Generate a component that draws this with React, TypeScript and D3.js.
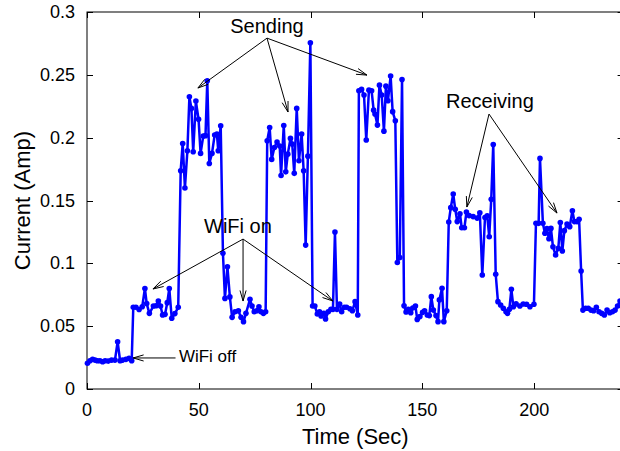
import React, { useEffect, useRef } from 'react';
import * as d3 from 'd3';

const timeSec = [
  0.2, 1.3, 2.5, 3.6, 4.6, 5.8, 7.0, 8.1, 9.5, 11.0, 12.5, 13.7, 14.8, 15.9, 17.4, 18.8, 20.0,
  20.7, 21.9, 23.3, 24.7, 25.9, 26.7, 27.9, 29.7, 30.9, 31.9, 32.9, 33.8, 34.9, 35.9, 36.8, 37.9, 39.3, 40.8,
  41.9, 42.8, 43.8, 44.9, 45.8, 46.7, 47.5, 48.7, 49.9, 50.8, 52.0, 53.0, 53.8, 54.7, 55.9, 57.1, 58.1, 58.7, 59.8,
  60.8, 61.7, 62.8, 63.9, 64.9, 66.2, 67.7, 68.9, 70.0, 71.1, 72.9, 73.8, 74.8, 75.9, 76.9, 77.8, 78.9, 79.9,
  80.6, 81.7, 82.6, 83.8, 85.0, 86.2, 86.8, 88.0, 88.9, 89.8, 91.0, 91.8, 92.7, 93.8, 94.8, 96.0, 96.9, 97.8, 98.8, 99.9,
  100.9, 101.9, 103.0, 104.0, 104.7, 105.9, 106.7, 107.9, 109.1, 110.0, 110.9, 111.8, 113.0, 113.9, 115.1, 116.1, 117.6, 118.7, 119.9, 121.1,
  121.6, 122.8, 123.9, 124.9, 126.1, 127.3, 128.2, 128.8, 129.9, 130.8, 131.8, 132.8, 133.7, 134.6, 135.8, 136.7, 137.9, 138.8, 139.9, 140.9,
  141.8, 142.7, 143.7, 144.8, 145.7, 146.9, 147.7, 148.9, 150.1, 151.0, 152.2, 153.1, 154.0, 154.9, 156.1, 157.0, 157.6, 158.8, 159.6, 160.9,
  161.8, 162.7, 163.8, 164.7, 165.6, 166.8, 167.6, 168.8, 169.7, 170.9, 172.7, 174.5, 175.7, 176.8, 178.0, 179.0, 179.9, 180.8, 181.7,
  182.8, 183.8, 185.0, 186.2, 187.4, 188.1, 188.9, 189.8, 190.7, 191.9, 193.6, 195.1, 196.6, 198.1, 199.9,
  200.8, 202.0, 202.6, 203.9, 204.8, 205.7, 206.6, 207.5, 208.4, 209.6, 210.8, 211.7, 212.6, 213.5, 214.7, 215.9, 217.1, 218.0, 219.2, 220.1,
  221.0, 221.8, 223.0, 224.2, 225.4, 226.6, 227.8, 229.0, 230.2, 231.4, 232.6, 233.8, 235.0, 236.2, 237.3, 238.4,
];

const currentAmp = [
  0.0205, 0.0225, 0.0236, 0.023, 0.0225, 0.0225, 0.0217, 0.0225, 0.0222, 0.023, 0.023, 0.0376, 0.0225, 0.023, 0.0236, 0.0244, 0.0225,
  0.065, 0.065, 0.0633, 0.0655, 0.08, 0.068, 0.0602, 0.066, 0.0663, 0.07, 0.066, 0.0589, 0.0594, 0.0687, 0.08, 0.0563, 0.06, 0.065,
  0.1737, 0.1954, 0.1599, 0.1896, 0.2326, 0.2233, 0.1888, 0.2291, 0.2146, 0.1875, 0.2013, 0.2016, 0.2452, 0.1795, 0.1875, 0.2021, 0.2029, 0.1896, 0.2095,
  0.108, 0.0721, 0.0973, 0.0733, 0.057, 0.0615, 0.0623, 0.057, 0.0536, 0.0602, 0.0714, 0.066, 0.0615, 0.0623, 0.0655, 0.0615, 0.0602, 0.0615,
  0.1976, 0.2081, 0.1827, 0.1921, 0.1965, 0.1933, 0.1699, 0.2097, 0.1728, 0.1869, 0.1994, 0.1949, 0.1716, 0.2233, 0.1816, 0.2029, 0.1737, 0.1145, 0.1853, 0.2755,
  0.0661, 0.0661, 0.0597, 0.0615, 0.0581, 0.0602, 0.0557, 0.0615, 0.0634, 0.0634, 0.1249, 0.0634, 0.0676, 0.0615, 0.065, 0.065, 0.0639, 0.0623, 0.0695, 0.0589,
  0.2373, 0.2384, 0.2339, 0.1981, 0.2378, 0.2373, 0.2219, 0.2188, 0.21, 0.2418, 0.2339, 0.2052, 0.241, 0.2294, 0.249, 0.2207, 0.2135, 0.1007, 0.1047, 0.2463,
  0.0663, 0.0613, 0.0634, 0.0607, 0.0644, 0.066, 0.0554, 0.0576, 0.061, 0.0623, 0.0589, 0.0584, 0.0735, 0.0629, 0.0584, 0.0536, 0.0709, 0.0802, 0.0536, 0.0623,
  0.1329, 0.1443, 0.1552, 0.143, 0.1332, 0.1395, 0.1283, 0.1283, 0.1408, 0.138, 0.1372, 0.136, 0.1403, 0.0907, 0.1365, 0.1379, 0.1212, 0.1509, 0.1946,
  0.0913, 0.0695, 0.0669, 0.0642, 0.0615, 0.0602, 0.0634, 0.0793, 0.0655, 0.0677, 0.066, 0.0676, 0.0674, 0.0655, 0.0674,
  0.1318, 0.1318, 0.1835, 0.1318, 0.1239, 0.1276, 0.1196, 0.1278, 0.1132, 0.1066, 0.1119, 0.1324, 0.1098, 0.126, 0.1313, 0.1292, 0.1419, 0.1332, 0.1332, 0.135,
  0.0939, 0.0628, 0.0642, 0.0642, 0.0628, 0.0623, 0.065, 0.0615, 0.0602, 0.0589, 0.0628, 0.0607, 0.0615, 0.0628, 0.066, 0.07,
];

const xTicks = [0, 50, 100, 150, 200];
const yTicks = [0, 0.05, 0.1, 0.15, 0.2, 0.25, 0.3];

// annotations, in data units: [label, text t, text v, anchor, from [t,v], tips [[t,v]...]]
const annoLabels = ['Sending', 'WiFi on', 'Receiving', 'WiFi off'];
const annoText = [[80.5, 0.2832], [67.5, 0.1241], [180.2, 0.2235], [41.1, 0.0213]];
const annoFrom = [[80.5, 0.2792], [69.8, 0.1193], [179.8, 0.2188], [39.6, 0.0247]];
const annoTips = [
  [[49.6, 0.2395], [89.9, 0.2204], [125.2, 0.2498]],
  [[29.5, 0.0796], [69.8, 0.0700], [110.0, 0.0700]],
  [[169.9, 0.1448], [210.2, 0.1400]],
  [[20.6, 0.0247]],
];

const W = 620;
const H = 451;

const App = () => {
  const ref = useRef(null);

  useEffect(() => {
    const svg = d3.select(ref.current);
    svg.selectAll('*').remove();
    const font = 'Liberation Sans, Arial, Helvetica, sans-serif';

    const x = d3.scaleLinear().domain([0, 240]).range([87, 623.6]);
    const y = d3.scaleLinear().domain([0, 0.3]).range([389, 12]);
    const [x0, x1] = x.range();
    const [y0, y1] = y.range();
    const tl = 6;

    // frame
    svg.append('rect')
      .attr('x', x0).attr('y', y1)
      .attr('width', x1 - x0).attr('height', y0 - y1)
      .attr('fill', 'none').attr('stroke', '#000').attr('stroke-width', 1);

    // ticks (inward, mirrored)
    xTicks.forEach(t => {
      const px = Math.round(x(t)) + 0.5;
      svg.append('line').attr('x1', px).attr('x2', px).attr('y1', y0).attr('y2', y0 - tl).attr('stroke', '#000');
      svg.append('line').attr('x1', px).attr('x2', px).attr('y1', y1).attr('y2', y1 + tl).attr('stroke', '#000');
      svg.append('text')
        .attr('x', x(t)).attr('y', y0 + 27)
        .attr('text-anchor', 'middle')
        .attr('font-family', font).attr('font-size', 18)
        .text(t);
    });
    yTicks.forEach(v => {
      const py = Math.round(y(v)) + 0.5;
      svg.append('line').attr('x1', x0).attr('x2', x0 + tl).attr('y1', py).attr('y2', py).attr('stroke', '#000');
      svg.append('line').attr('x1', x1).attr('x2', x1 - tl).attr('y1', py).attr('y2', py).attr('stroke', '#000');
      svg.append('text')
        .attr('x', 75).attr('y', y(v) + 6)
        .attr('text-anchor', 'end')
        .attr('font-family', font).attr('font-size', 18)
        .text(v === 0 ? '0' : String(v));
    });

    // axis titles
    svg.append('text')
      .attr('x', (x0 + x1) / 2 - 0).attr('y', 444)
      .attr('text-anchor', 'middle')
      .attr('font-family', font).attr('font-size', 22)
      .text('Time (Sec)');
    svg.append('text')
      .attr('transform', `translate(30,${(y0 + y1) / 2}) rotate(-90)`)
      .attr('text-anchor', 'middle')
      .attr('font-family', font).attr('font-size', 22)
      .text('Current (Amp)');

    // trace
    const data = timeSec.map((t, i) => [t, currentAmp[i]]);
    const plot = svg.append('g');
    const line = d3.line().x(d => x(d[0])).y(d => y(d[1]));
    plot.append('path')
      .datum(data)
      .attr('fill', 'none')
      .attr('stroke', '#0000ff')
      .attr('stroke-width', 2.5)
      .attr('stroke-linejoin', 'round')
      .attr('d', line);
    plot.selectAll('circle')
      .data(data)
      .join('circle')
      .attr('cx', d => x(d[0]))
      .attr('cy', d => y(d[1]))
      .attr('r', 2.8)
      .attr('fill', '#0000ff');

    // annotations
    const arrow = (fx, fy, tx, ty) => {
      svg.append('line')
        .attr('x1', fx).attr('y1', fy).attr('x2', tx).attr('y2', ty)
        .attr('stroke', '#000').attr('stroke-width', 1);
      const ang = Math.atan2(ty - fy, tx - fx);
      const len = 11;
      const spread = 0.28;
      [ang + Math.PI - spread, ang + Math.PI + spread].forEach(a => {
        svg.append('line')
          .attr('x1', tx).attr('y1', ty)
          .attr('x2', tx + len * Math.cos(a)).attr('y2', ty + len * Math.sin(a))
          .attr('stroke', '#000').attr('stroke-width', 1);
      });
    };

    annoLabels.forEach((label, i) => {
      const small = label === 'WiFi off';
      svg.append('text')
        .attr('x', x(annoText[i][0])).attr('y', y(annoText[i][1]))
        .attr('text-anchor', small ? 'start' : 'middle')
        .attr('font-family', font).attr('font-size', small ? 17 : 20)
        .text(label);
      annoTips[i].forEach(tp => {
        arrow(x(annoFrom[i][0]), y(annoFrom[i][1]), x(tp[0]), y(tp[1]));
      });
    });
  }, []);

  return (
    <svg
      ref={ref}
      width={W}
      height={H}
      style={{ position: 'absolute', left: 0, top: 0, background: '#fff' }}
    />
  );
};

export default App;
